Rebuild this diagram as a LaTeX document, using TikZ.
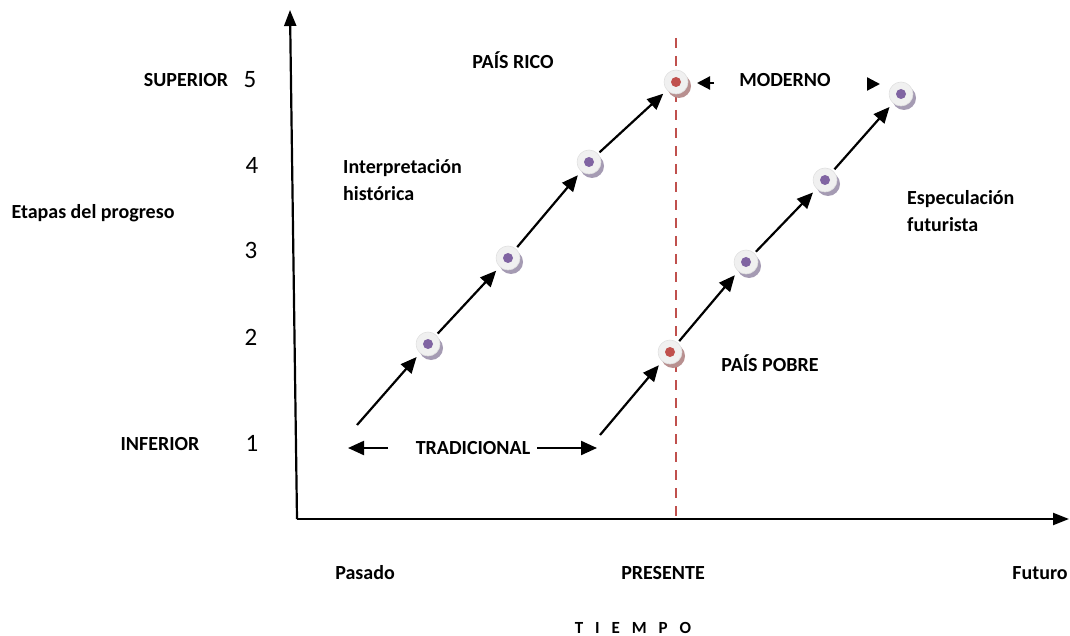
\documentclass[tikz,border=0pt]{standalone}
\usepackage{fontspec}
\setmainfont{Carlito}
\usetikzlibrary{arrows.meta}
\definecolor{dotpurple}{HTML}{8064A2}
\definecolor{dotred}{HTML}{C0504D}
\definecolor{shpurple}{HTML}{A59BB3}
\definecolor{shred}{HTML}{B89090}
\definecolor{disc}{HTML}{F0F0F0}
\newcommand\mymarker[4]{%
  \fill[#4] (#2) ++(3,4) circle (12pt);
  \node[mk] (#1) at (#2) {};
  \fill[#3] (#1.center) circle (5pt);
}
\begin{document}
\begin{tikzpicture}[x=1pt,y=-1pt,
  lbl/.style={font=\fontsize{20}{25}\selectfont\bfseries, inner sep=0pt},
  num/.style={font=\fontsize{25}{30}\selectfont, inner sep=0pt},
  arr/.style={line width=2.2pt, -{Triangle[length=16pt,width=14pt]}},
  axis/.style={line width=2.2pt, -{Triangle[length=16pt,width=12pt]}},
  mk/.style={circle, minimum size=24pt, inner sep=0pt, fill=disc, draw=black!12, line width=0.6pt},
]
\useasboundingbox (0,0) rectangle (1070,636);
% axes
\coordinate (origin) at (297,519);
\coordinate (ytop) at (290,10);
\coordinate (xend) at (1069,519);
\draw[axis] (origin) -- (ytop);
\draw[axis] (origin) -- (xend);
% present line
\coordinate (ptop) at (676,38);
\coordinate (pbot) at (676,519);
\draw[dotred, line width=2pt, dash pattern=on 10pt off 8pt] (ptop) -- (pbot);
% y labels
\node[num] (n5) at (250,80) {5};
\node[num] (n4) at (252,165) {4};
\node[num] (n3) at (251,250) {3};
\node[num] (n2) at (251,337) {2};
\node[num] (n1) at (252,443) {1};
\node[lbl] (sup) at (186,80) {SUPERIOR};
\node[lbl] (inf) at (160,444) {INFERIOR};
\node[lbl] (etapas) at (93,213) {Etapas del progreso};
% x labels
\node[lbl] (pasado) at (365,573) {Pasado};
\node[lbl] (presente) at (663,573) {PRESENTE};
\node[lbl] (futuro) at (1040,573) {Futuro};
\node[lbl, font=\fontsize{17}{20}\selectfont\bfseries] (tiempo) at (633,628) {T\hspace{0.7em}I\hspace{0.7em}E\hspace{0.7em}M\hspace{0.7em}P\hspace{0.7em}O};
% other labels
\node[lbl] (rico) at (513,60) {PAÍS RICO};
\node[lbl] (moderno) at (785,80) {MODERNO};
\node[lbl, align=left, anchor=west, font=\fontsize{20}{27}\selectfont\bfseries] (interp) at (343,180) {Interpretación\\histórica};
\node[lbl, align=left, anchor=west, font=\fontsize{20}{27}\selectfont\bfseries] (espec) at (907,211) {Especulación\\futurista};
\node[lbl] (pobre) at (770,363) {PAÍS POBRE};
\node[lbl] (trad) at (473,448) {TRADICIONAL};
% markers
\mymarker{L1}{428,344}{dotpurple}{shpurple}
\mymarker{L2}{508,258}{dotpurple}{shpurple}
\mymarker{L3}{589,162}{dotpurple}{shpurple}
\mymarker{L4}{676,82}{dotred}{shred}
\mymarker{R1}{670,352}{dotred}{shred}
\mymarker{R2}{746,262}{dotpurple}{shpurple}
\mymarker{R3}{825,180}{dotpurple}{shpurple}
\mymarker{R4}{901,94}{dotpurple}{shpurple}
% chains
\coordinate (s1) at (357,425);
\coordinate (s2) at (600,435);
\draw[arr, shorten >=5pt] (s1) -- (L1);
\draw[arr, shorten >=5pt, shorten <=2pt] (L1) -- (L2);
\draw[arr, shorten >=5pt, shorten <=2pt] (L2) -- (L3);
\draw[arr, shorten >=5pt, shorten <=2pt] (L3) -- (L4);
\draw[arr, shorten >=5pt] (s2) -- (R1);
\draw[arr, shorten >=5pt, shorten <=2pt] (R1) -- (R2);
\draw[arr, shorten >=5pt, shorten <=2pt] (R2) -- (R3);
\draw[arr, shorten >=5pt, shorten <=2pt] (R3) -- (R4);
% moderno arrows
\coordinate (ma1) at (714,83);
\coordinate (ma1t) at (697,83);
\coordinate (ma2) at (867,84);
\coordinate (ma2t) at (880,84);
\draw[arr, -{Triangle[length=13pt,width=13pt]}] (ma1) -- (ma1t);
\draw[arr, -{Triangle[length=13pt,width=13pt]}] (ma2) -- (ma2t);
% tradicional arrows
\coordinate (ta1) at (388,448);
\coordinate (ta1t) at (348,448);
\coordinate (ta2) at (537,448);
\coordinate (ta2t) at (597,448);
\draw[arr] (ta1) -- (ta1t);
\draw[arr] (ta2) -- (ta2t);
\end{tikzpicture}
\end{document}
